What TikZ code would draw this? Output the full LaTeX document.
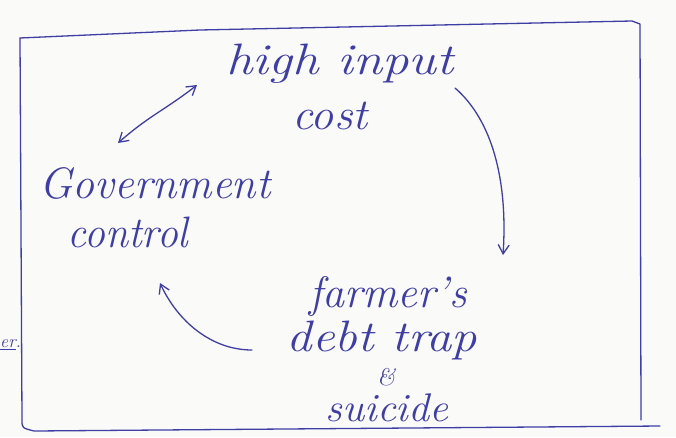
\documentclass[tikz,border=0pt]{standalone}
\usetikzlibrary{arrows.meta}
\definecolor{ink}{RGB}{62,62,165}
\definecolor{paper}{RGB}{250,250,248}
\newcommand{\hw}[2]{\scalebox{#1}[1]{#2}}
\tikzset{
  hand/.style={text=ink, font=\fontsize{44}{50}\selectfont\itshape, inner sep=0pt},
  pen/.style={draw=ink, line width=1.3pt, line cap=round, line join=round},
  tip/.style={-{Straight Barb[length=9pt,width=11pt]}},
}
\begin{document}
\begin{tikzpicture}[x=1pt,y=-1pt]
\useasboundingbox (0,0) rectangle (676,437);
\fill[paper] (0,0) rectangle (676,437);
% frame
\draw[pen] (20,38) -- (200,30) -- (632,21) -- (640,24) -- (641,420);
\draw[pen] (20,38) -- (22,420) .. controls (22,428) .. (34,431) -- (660,426);
% texts
\node[hand] (high) at (340,64) {\hw{1.2}{high input}};
\node[hand] (cost) at (330,116) {\hw{1.05}{cost}};
\node[hand] (gov) at (155,183) {\hw{1.0}{Government}};
\node[hand] (ctl) at (128,232) {\hw{0.95}{control}};
\node[hand] (farm) at (388,296) {\hw{1.0}{farmer's}};
\node[hand] (debt) at (382,340) {\hw{1.15}{debt trap}};
\node[hand, font=\fontsize{24}{28}\selectfont\itshape] (amp) at (386,377) {\&};
\node[hand, font=\fontsize{40}{46}\selectfont\itshape] (sui) at (387,408) {\hw{1.05}{suicide}};
\node[text=ink, font=\fontsize{18}{20}\selectfont\itshape, inner sep=0pt, anchor=west] (er) at (0,345) {\underline{er}.};
% connectors
\coordinate (a1) at (118,143);
\coordinate (a2) at (197,85);
\draw[pen, {Straight Barb[length=9pt,width=11pt]}-{Straight Barb[length=9pt,width=11pt]}] (a1) .. controls (150,115) and (165,110) .. (a2);
\coordinate (b1) at (455,88);
\coordinate (b2) at (503,255);
\draw[pen, tip] (b1) .. controls (492,120) and (508,180) .. (b2);
\coordinate (c1) at (252,350);
\coordinate (c2) at (160,283);
\draw[pen, tip] (c1) .. controls (212,350) and (178,322) .. (c2);
\end{tikzpicture}
\end{document}
